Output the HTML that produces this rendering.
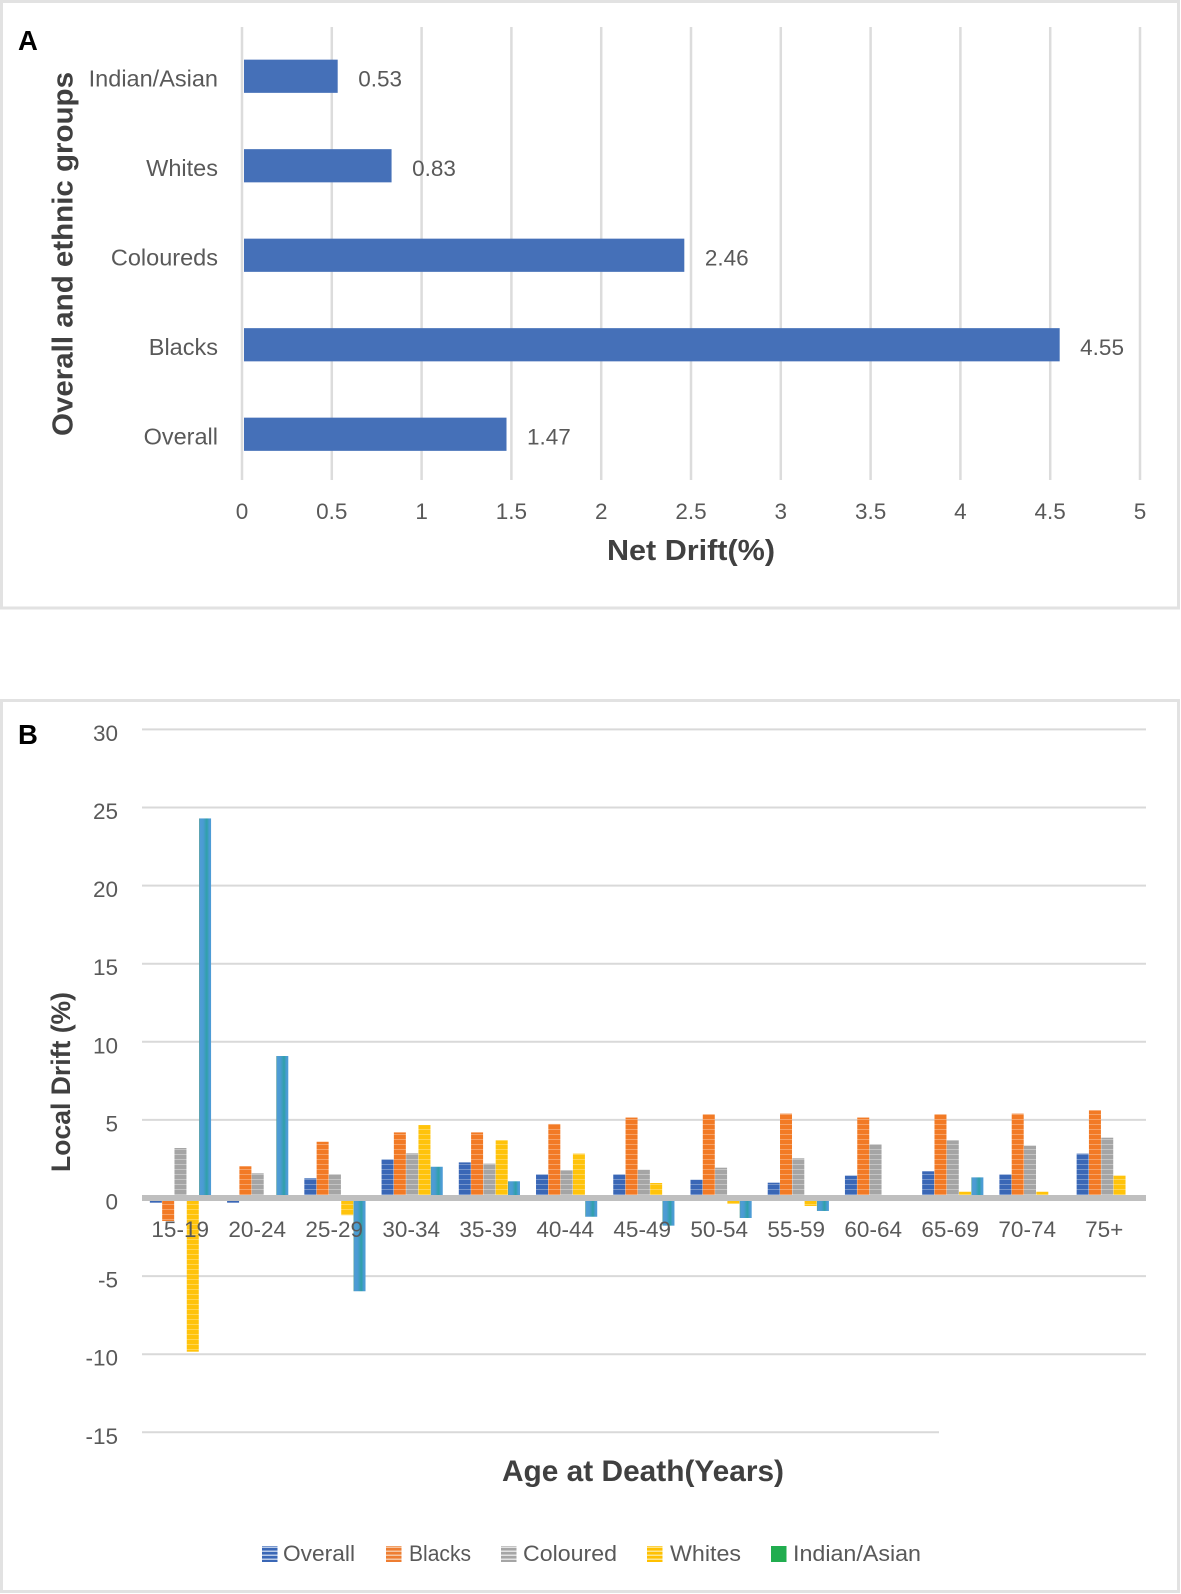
<!DOCTYPE html>
<html lang="en">
<head>
<meta charset="utf-8">
<title>Net drift and local drift charts</title>
<style>
  html, body { margin: 0; padding: 0; background: #fff; }
  body { width: 1181px; height: 1594px; overflow: hidden; }
  svg { display: block; font-family: "Liberation Sans", sans-serif; }
  .tick { font-size: 22.5px; fill: #595959; }
  .title { font-weight: bold; fill: #404040; }
</style>
</head>
<body>
<svg id="figure" xmlns="http://www.w3.org/2000/svg" width="1181" height="1594" viewBox="0 0 1181 1594">
  <defs>
    <pattern id="pat-overall" patternUnits="userSpaceOnUse" width="14" height="5">
      <rect width="14" height="5" fill="#3a67b6"></rect><rect y="4" width="14" height="1" fill="#fff" opacity="0.3"></rect>
    </pattern>
    <pattern id="pat-blacks" patternUnits="userSpaceOnUse" width="14" height="5">
      <rect width="14" height="5" fill="#f27a25"></rect><rect y="4" width="14" height="1" fill="#fff" opacity="0.3"></rect>
    </pattern>
    <pattern id="pat-coloured" patternUnits="userSpaceOnUse" width="14" height="5">
      <rect width="14" height="5" fill="#a5a5a5"></rect><rect y="4" width="14" height="1" fill="#fff" opacity="0.35"></rect>
    </pattern>
    <pattern id="pat-whites" patternUnits="userSpaceOnUse" width="14" height="5">
      <rect width="14" height="5" fill="#ffc30b"></rect><rect y="4" width="14" height="1" fill="#fff" opacity="0.3"></rect>
    </pattern>
    <linearGradient id="grad-asian" x1="0" x2="1" y1="0" y2="0">
      <stop offset="0" stop-color="#55a08a"></stop>
      <stop offset="0.08" stop-color="#4f9cd6"></stop>
      <stop offset="0.35" stop-color="#4a9bd2"></stop>
      <stop offset="0.65" stop-color="#2fa0a8"></stop>
      <stop offset="0.85" stop-color="#4a9cd4"></stop>
      <stop offset="1" stop-color="#4f9cd6"></stop>
    </linearGradient>
    <pattern id="leg-overall" patternUnits="userSpaceOnUse" width="16" height="4">
      <rect width="16" height="4" fill="#3a67b6"></rect><rect y="2.5" width="16" height="1.5" fill="#b9cbe8"></rect>
    </pattern>
    <pattern id="leg-blacks" patternUnits="userSpaceOnUse" width="16" height="4">
      <rect width="16" height="4" fill="#ee7d31"></rect><rect y="2.5" width="16" height="1.5" fill="#f5c5a0"></rect>
    </pattern>
    <pattern id="leg-coloured" patternUnits="userSpaceOnUse" width="16" height="4">
      <rect width="16" height="4" fill="#a5a5a5"></rect><rect y="2.5" width="16" height="1.5" fill="#e2e2e2"></rect>
    </pattern>
    <pattern id="leg-whites" patternUnits="userSpaceOnUse" width="16" height="4">
      <rect width="16" height="4" fill="#ffc000"></rect><rect y="2.5" width="16" height="1.5" fill="#fbe58e"></rect>
    </pattern>
  </defs>

  <rect x="1.5" y="1.5" width="1177" height="606.5" fill="#fff" stroke="#e2e2e2" stroke-width="3"></rect>
  <rect x="1.5" y="700.5" width="1177" height="891" fill="#fff" stroke="#e2e2e2" stroke-width="3"></rect>

  <g id="chart-a"></g>
  <g id="chart-b"></g>

  <text x="18" y="50" font-size="27.5" font-weight="bold" fill="#000">A</text>
  <text x="18" y="744" font-size="27.5" font-weight="bold" fill="#000">B</text>

  <text class="title" x="72.7" y="254" font-size="29" text-anchor="middle" textLength="364" lengthAdjust="spacingAndGlyphs" transform="rotate(-90 72.7 254)">Overall and ethnic groups</text>
  <text class="title" x="691" y="560" font-size="29" text-anchor="middle" textLength="168" lengthAdjust="spacingAndGlyphs">Net Drift(%)</text>
  <text class="title" x="70" y="1082" font-size="27" text-anchor="middle" textLength="180" lengthAdjust="spacingAndGlyphs" transform="rotate(-90 70 1082)">Local Drift (%)</text>
  <text class="title" x="643" y="1481" font-size="30" text-anchor="middle" textLength="282" lengthAdjust="spacingAndGlyphs">Age at Death(Years)</text>

  <g>
    <g>
      <rect x="262" y="1546" width="15.5" height="16" fill="url(#leg-overall)"></rect>
      <text class="tick" x="283" y="1561" textLength="72" lengthAdjust="spacingAndGlyphs">Overall</text>
    </g>
    <g>
      <rect x="386" y="1546" width="15.5" height="16" fill="url(#leg-blacks)"></rect>
      <text class="tick" x="409" y="1561" textLength="62" lengthAdjust="spacingAndGlyphs">Blacks</text>
    </g>
    <g>
      <rect x="501" y="1546" width="15.5" height="16" fill="url(#leg-coloured)"></rect>
      <text class="tick" x="523" y="1561" textLength="94" lengthAdjust="spacingAndGlyphs">Coloured</text>
    </g>
    <g>
      <rect x="647" y="1546" width="15.5" height="16" fill="url(#leg-whites)"></rect>
      <text class="tick" x="670" y="1561" textLength="71" lengthAdjust="spacingAndGlyphs">Whites</text>
    </g>
    <g>
      <rect x="771" y="1546" width="15.5" height="16" fill="#21ad4f"></rect>
      <text class="tick" x="793" y="1561" textLength="128" lengthAdjust="spacingAndGlyphs">Indian/Asian</text>
    </g>
  </g>
</svg>

<script>
// Panel A data
var netGroups = ["Indian/Asian", "Whites", "Coloureds", "Blacks", "Overall"];
var netDriftValues = [0.53, 0.83, 2.46, 4.55, 1.47];
var netDriftLabels = ["0.53", "0.83", "2.46", "4.55", "1.47"];
var netTicks = [0, 0.5, 1, 1.5, 2, 2.5, 3, 3.5, 4, 4.5, 5];

// Panel B data
var ageCategories = ["15-19", "20-24", "25-29", "30-34", "35-39", "40-44", "45-49", "50-54", "55-59", "60-64", "65-69", "70-74", "75+"];
var overallValues = [-0.3, -0.3, 1.26, 2.47, 2.28, 1.51, 1.51, 1.17, 0.98, 1.43, 1.71, 1.51, 2.84];
var blacksValues = [-1.47, 2.03, 3.6, 4.2, 4.2, 4.74, 5.15, 5.36, 5.4, 5.15, 5.36, 5.4, 5.61];
var colouredValues = [3.2, 1.58, 1.52, 2.86, 2.2, 1.77, 1.81, 1.94, 2.54, 3.44, 3.69, 3.35, 3.86];
var whitesValues = [-9.84, 0, -1.1, 4.67, 3.69, 2.84, 0.96, -0.36, -0.51, 0, 0.4, 0.4, 1.43];
var indianAsianValues = [24.3, 9.09, -5.97, 2.0, 1.07, -1.2, -1.77, -1.28, -0.83, 0, 1.32, 0, 0];
var localTicks = [30, 25, 20, 15, 10, 5, 0, -5, -10, -15];

var NS = "http://www.w3.org/2000/svg";

function make(parent, tag, attrs, text) {
  var node = document.createElementNS(NS, tag);
  for (var key in attrs) node.setAttribute(key, attrs[key]);
  if (text !== undefined) node.textContent = text;
  parent.appendChild(node);
  return node;
}

// ---------- Panel A ----------
var chartA = document.getElementById("chart-a");
function xA(v) { return 242 + v * 179.6; }
function bandA(i) { return 31.6 + 89.5 * i + 44.75; }

netTicks.forEach(function (t) {
  var grid = make(chartA, "line", { x1: xA(t), x2: xA(t), y1: 27, y2: 480, stroke: "#dcdcdc", "stroke-width": 2.5 });
  
  
  var label = make(chartA, "text", { "class": "tick", x: xA(t), y: 519, "text-anchor": "middle" }, String(t));
  
  
});

netGroups.forEach(function (g, i) {
  var cy = bandA(i);
  var bar = make(chartA, "rect", { x: 244, y: cy - 16.7, width: xA(netDriftValues[i]) - 243.5, height: 33.2, fill: "#4570b8" });
  
  
  var cat = make(chartA, "text", { "class": "tick", x: 218, y: cy + 10, "text-anchor": "end", style: "font-size:23.5px" }, g);
  
  
  var val = make(chartA, "text", { "class": "tick", x: xA(netDriftValues[i]) + 21, y: cy + 10 }, netDriftLabels[i]);
  
  
});

// ---------- Panel B ----------
var chartB = document.getElementById("chart-b");
var plotLeft = 142, plotRight = 1146, shortRight = 939;
var catWidth = (plotRight - plotLeft) / ageCategories.length;
var slot = 12.3, barW = 12;
function yB(v) { return 1198 - v * 15.62; }
function xB(cat, s) { return plotLeft + catWidth * cat + (catWidth - slot * 5) / 2 + slot * s; }

localTicks.forEach(function (t) {
  var right = t === -15 ? shortRight : plotRight;
  if (t !== 0) {
    var grid = make(chartB, "line", { x1: plotLeft, x2: right, y1: yB(t), y2: yB(t), stroke: "#d9d9d9", "stroke-width": 2 });
    
    
  }
  var label = make(chartB, "text", { "class": "tick", x: 118, y: yB(t) + 11.5, "text-anchor": "end" }, String(t));
  
  
});

var seriesValues = [overallValues, blacksValues, colouredValues, whitesValues, indianAsianValues];
var seriesFills = ["url(#pat-overall)", "url(#pat-blacks)", "url(#pat-coloured)", "url(#pat-whites)", "url(#grad-asian)"];

seriesValues.forEach(function (values, s) {
  values.forEach(function (v, c) {
    if (v === 0) return;
    var top = Math.min(yB(v), yB(0));
    var h = Math.abs(yB(v) - yB(0));
    var bar = make(chartB, "rect", { x: xB(c, s), y: top, width: barW, height: h, fill: seriesFills[s] });
    
    
  });
});

var axis = make(chartB, "line", { x1: plotLeft, x2: plotRight, y1: yB(0), y2: yB(0), stroke: "#bfbfbf", "stroke-width": 6 });



ageCategories.forEach(function (name, c) {
  var label = make(chartB, "text", { "class": "tick", x: plotLeft + 38.2 + 77 * c, y: 1237, "text-anchor": "middle" }, name);
  
  
});
</script>
</body>
</html>
